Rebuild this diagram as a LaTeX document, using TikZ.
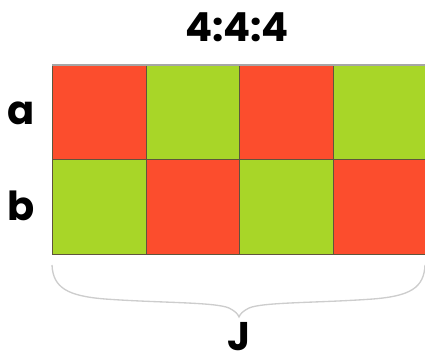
\documentclass[tikz,border=0pt]{standalone}
\usepackage{fontspec}
\setmainfont{Poppins}
\definecolor{cred}{RGB}{252,77,45}
\definecolor{cgreen}{RGB}{168,214,40}
\definecolor{cedge}{RGB}{95,85,60}
\definecolor{cbrace}{RGB}{205,205,205}
\begin{document}
\begin{tikzpicture}[x=0.75pt,y=-0.75pt,
  lbl/.style={font=\fontsize{30}{36}\selectfont\bfseries, anchor=base, inner sep=0pt},
  cell/.style={draw=cedge, line width=0.6pt},
  bracestyle/.style={draw=cbrace, line width=1pt}]
\useasboundingbox (0,0) rectangle (425,363);
% cells
\foreach \i/\x in {0/52,1/146,2/239.5,3/333}{
  \pgfmathsetmacro{\xr}{\x+93.5}
  \ifodd\i
    \fill[cgreen] (\x,65) rectangle (\xr,159);
    \fill[cred] (\x,159) rectangle (\xr,254);
  \else
    \fill[cred] (\x,65) rectangle (\xr,159);
    \fill[cgreen] (\x,159) rectangle (\xr,254);
  \fi
}
\foreach \x in {146,239.5,333}{ \draw[cell] (\x,65) -- (\x,254); }
\draw[cell] (52,159) -- (426.5,159);
\draw[cell] (52,254) -- (52,65);
\draw[cell] (52,254) -- (426.5,254);
\draw[draw=gray!70, line width=0.8pt] (52,65) -- (426.5,65);
% labels
\node[lbl] (title) at (237,42) {4:4:4};
\node[lbl] (a) at (21,125) {a};
\node[lbl] (b) at (21,221) {b};
\node[lbl] (J) at (239,350) {J};
% brace
\coordinate (bl) at (52,265);
\coordinate (br) at (425,265);
\coordinate (tip) at (239,317);
\draw[bracestyle] (bl) .. controls (53,288) and (68,296) .. (105,299)
  .. controls (160,303) and (215,302) .. (229,308)
  .. controls (235,311) and (238,314) .. (tip)
  .. controls (240,314) and (243,311) .. (249,308)
  .. controls (263,302) and (318,303) .. (373,299)
  .. controls (410,296) and (424,288) .. (br);
\end{tikzpicture}
\end{document}
